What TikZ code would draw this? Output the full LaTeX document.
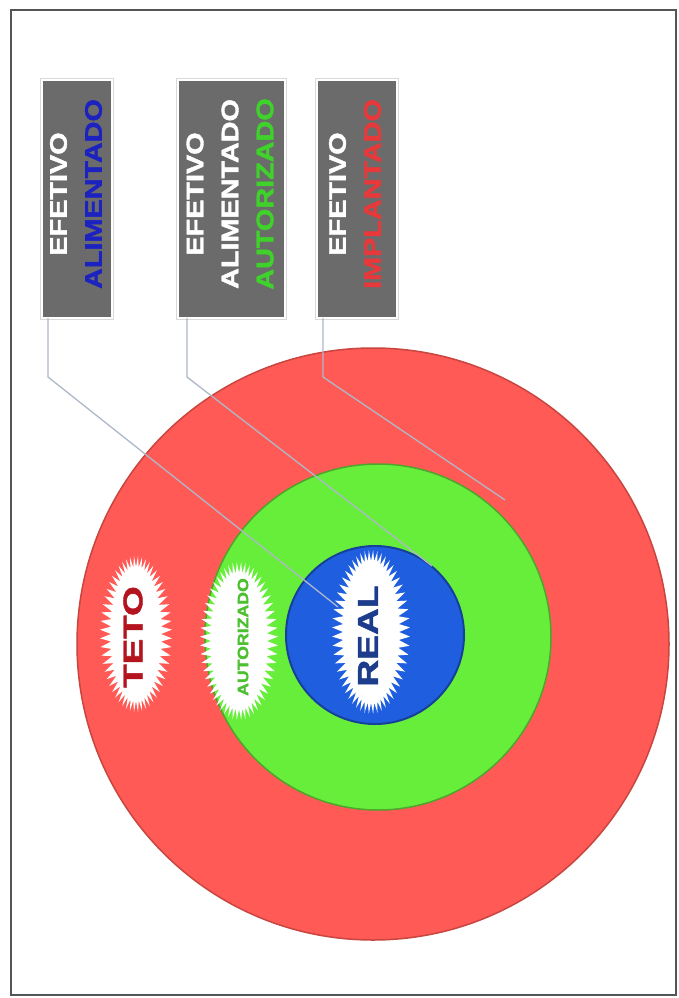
\documentclass[tikz,border=0pt]{standalone}
\usepackage{fontspec}
\setmainfont{Liberation Sans}
\newfontfamily\heavyfont[FakeBold=1.6]{Liberation Sans Bold}
\usetikzlibrary{calc}
\definecolor{framegray}{HTML}{555555}
\definecolor{boxgray}{HTML}{6B6B6B}
\definecolor{alimblue}{HTML}{1C22C0}
\definecolor{autgreen}{HTML}{3FD22A}
\definecolor{implred}{HTML}{E8383A}
\definecolor{tetofill}{HTML}{FF5A55}
\definecolor{tetoedge}{HTML}{C8463F}
\definecolor{autfill}{HTML}{66EE3A}
\definecolor{autedge}{HTML}{4DA52C}
\definecolor{realfill}{HTML}{1F5FDF}
\definecolor{realedge}{HTML}{17409A}
\definecolor{tetotext}{HTML}{B4141E}
\definecolor{realtext}{HTML}{1E3C8C}
\definecolor{autztext}{HTML}{4CC030}
\definecolor{conncol}{HTML}{AEB8C8}
% starburst: cx cy a b spike
\newcommand\mystarburst[5]{%
  \fill[white] plot[domain=0:360, samples=113, variable=\t]
   ({#1+(#3+#5*mod(round(\t/3.2142857),2))*cos(\t)},
    {#2+(#4+#5*mod(round(\t/3.2142857),2))*sin(\t)}) -- cycle;}
\begin{document}
\begin{tikzpicture}[x=1pt,y=-1pt,
  ring/.style={circle, inner sep=0pt, outer sep=0pt, line width=1.5pt},
  labelbox/.style={rectangle, fill=boxgray, draw=white, line width=2pt,
     preaction={draw=gray!30, line width=4.5pt}, inner sep=0pt, outer sep=0pt,
     minimum height=238pt},
  lbltext/.style={rotate=90, align=center, text=white,
     font=\fontsize{24}{35}\selectfont\heavyfont},
  bursttext/.style={rotate=90, inner sep=0pt},
  conn/.style={draw=conncol, line width=1.3pt}]
\useasboundingbox (0,0) rectangle (678,998);
\fill[white] (0,0) rectangle (678,998);
\draw[framegray, line width=2pt] (11,10) rectangle (676,995);

% rings
\node[ring, minimum size=592pt, fill=tetofill, draw=tetoedge] (ringTeto) at (373,644) {};
\node[ring, minimum size=346pt, fill=autfill, draw=autedge] (ringAut) at (378,637) {};
\node[ring, minimum size=178pt, fill=realfill, draw=realedge, line width=2pt] (ringReal) at (375,635) {};

% label boxes
\node[labelbox, minimum width=70pt] (b1) at (77,199) {};
\node[labelbox, minimum width=107pt] (b2) at (231.5,199) {};
\node[labelbox, minimum width=80pt] (b3) at (357,199) {};

\node[lbltext] (t1) at (76,194) {\scalebox{1.2}[1]{EFETIVO}\\\scalebox{1.2}[1]{\textcolor{alimblue}{ALIMENTADO}}};
\node[lbltext] (t2) at (230,194) {\scalebox{1.2}[1]{EFETIVO}\\\scalebox{1.2}[1]{ALIMENTADO}\\\scalebox{1.2}[1]{\textcolor{autgreen}{AUTORIZADO}}};
\node[lbltext] (t3) at (355,194) {\scalebox{1.2}[1]{EFETIVO}\\\scalebox{1.2}[1]{\textcolor{implred}{IMPLANTADO}}};

% connectors
\coordinate (e1) at (338,607);
\coordinate (e2) at (432,566);
\coordinate (e3) at (505,500);
\draw[conn] ($(b1.south west)+(6,0)$) -- ++(0,59) -- (e1);
\draw[conn] ($(b2.south west)+(9,0)$) -- ++(0,59) -- (e2);
\draw[conn] ($(b3.south west)+(6,0)$) -- ++(0,59) -- (e3);

% starbursts
\mystarburst{136}{634}{25}{67}{11}
\mystarburst{239}{641}{28}{68}{11}
\mystarburst{371}{632}{28}{71}{11}

\node[bursttext, text=tetotext, font=\fontsize{27}{30}\selectfont\heavyfont] (tTeto) at (133,637) {\scalebox{1.42}[1]{TETO}};
\node[bursttext, text=autztext, font=\fontsize{15}{18}\selectfont\heavyfont] (tAut) at (243,637) {\scalebox{1.18}[1]{AUTORIZADO}};
\node[bursttext, text=realtext, font=\fontsize{29}{32}\selectfont\heavyfont] (tReal) at (368,636) {\scalebox{1.28}[1]{REAL}};
\end{tikzpicture}
\end{document}
